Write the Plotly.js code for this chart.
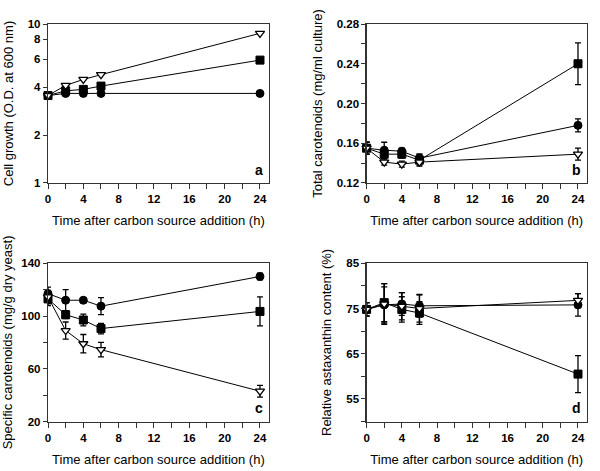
<!DOCTYPE html>
<html>
<head>
<meta charset="utf-8">
<script src="https://cdn.plot.ly/plotly-3.0.1.min.js"></script>
<style>html,body{margin:0;padding:0;background:#fff}#chart{width:600px;height:471px}</style>
</head>
<body>
<div id="chart"></div>
<script>
// Time points (h)
var hours = [0, 2, 4, 6, 24];

// Panel a: cell growth (O.D. at 600 nm)
var growthCircle   = [3.55, 3.66, 3.66, 3.66, 3.66];
var growthSquare   = [3.55, 3.80, 3.88, 4.07, 5.93];
var growthTriangle = [3.55, 4.11, 4.48, 4.80, 8.74];

// Panel b: total carotenoids (mg/ml culture)
var totalCircle      = [0.155, 0.153, 0.152, 0.145, 0.178];
var totalCircleErr   = [0.006, 0.008, 0.003, 0.004, 0.0065];
var totalSquare      = [0.155, 0.149, 0.149, 0.143, 0.240];
var totalSquareErr   = [0.006, 0.004, 0.004, 0.006, 0.021];
var totalTriangle    = [0.155, 0.141, 0.139, 0.141, 0.149];
var totalTriangleErr = [0.006, 0.003, 0.003, 0.003, 0.006];

// Panel c: specific carotenoids (mg/g dry yeast)
var specCircle      = [117, 112, 112, 107.5, 130];
var specCircleErr   = [5, 8, 2, 6.5, 2.5];
var specSquare      = [113, 101, 97, 90.5, 103.5];
var specSquareErr   = [5, 3, 4.5, 4, 11];
var specTriangle    = [114.5, 89, 79, 74.5, 43];
var specTriangleErr = [5, 6.5, 7, 5.5, 4.5];

// Panel d: relative astaxanthin content (%)
var astaCircle      = [74.8, 75.8, 76.0, 75.6, 75.8];
var astaCircleErr   = [1.5, 4, 2.5, 2.5, 2.5];
var astaSquare      = [74.8, 76.3, 74.8, 74.0, 60.5];
var astaSquareErr   = [1.5, 4.2, 2.8, 2.5, 4.1];
var astaTriangle    = [74.8, 76.0, 75.5, 75.0, 76.8];
var astaTriangleErr = [1.5, 4.5, 3, 3, 1.5];

// Tick values / labels
var xTickVals = [0,2,4,6,8,10,12,14,16,18,20,22,24];
var xTickText = ['0','','4','','8','','12','','16','','20','','24'];
var aTickVals = [1,2,4,6,8,10];
var aTickText = ['1','2','4','6','8','10'];
var bTickVals = [0.12,0.14,0.16,0.18,0.20,0.22,0.24,0.26,0.28];
var bTickText = ['0.12','','0.16','','0.20','','0.24','','0.28'];
var cTickVals = [20,40,60,80,100,120,140];
var cTickText = ['20','','60','','100','','140'];
var dTickVals = [50,55,60,65,70,75,80,85];
var dTickText = ['','55','','65','','75','','85'];

var panelLetters = ['a','b','c','d'];
var xTitle = 'Time after carbon source addition (h)';
var yTitles = ['Cell growth (O.D. at 600 nm)','Total carotenoids (mg/ml culture)',
               'Specific carotenoids (mg/g dry yeast)','Relative astaxanthin content (%)'];

var FONT = 'Liberation Sans, Arial, sans-serif';
var markerStyles = {
  circle:   {symbol:'circle', size:8, color:'#000', line:{color:'#000', width:1}},
  square:   {symbol:'square', size:8, color:'#000', line:{color:'#000', width:1}},
  triangle: {symbol:'triangle-down', size:8, color:'#fff', line:{color:'#000', width:1.3}}
};

function tr(y, err, kind, n) {
  var t = {
    x: hours, y: y, mode: 'lines+markers', type: 'scatter',
    xaxis: 'x' + (n === 1 ? '' : n), yaxis: 'y' + (n === 1 ? '' : n),
    line: {color:'#000', width:1}, marker: markerStyles[kind],
    showlegend: false, cliponaxis: false
  };
  if (err) t.error_y = {type:'data', array: err, visible:true, color:'#000', thickness:1.3, width:3};
  return t;
}

var data = [
  tr(growthCircle, null, 'circle', 1),
  tr(growthSquare, null, 'square', 1),
  tr(growthTriangle, null, 'triangle', 1),
  tr(totalCircle, totalCircleErr, 'circle', 2),
  tr(totalSquare, totalSquareErr, 'square', 2),
  tr(totalTriangle, totalTriangleErr, 'triangle', 2),
  tr(specCircle, specCircleErr, 'circle', 3),
  tr(specSquare, specSquareErr, 'square', 3),
  tr(specTriangle, specTriangleErr, 'triangle', 3),
  tr(astaCircle, astaCircleErr, 'circle', 4),
  tr(astaSquare, astaSquareErr, 'square', 4),
  tr(astaTriangle, astaTriangleErr, 'triangle', 4)
];

function xa(domain, anchor) {
  return {
    domain: domain, anchor: anchor, range: [0, 25],
    tickmode: 'array', tickvals: xTickVals, ticktext: xTickText,
    ticks: 'outside', ticklen: 5, tickwidth: 1, tickcolor: '#333',
    showline: true, linecolor: '#333', linewidth: 1.2, mirror: true,
    showgrid: false, zeroline: false,
    tickfont: {family: FONT, size: 11.5, color: '#000', weight: 'bold'},
    title: {text: xTitle, standoff: 12, font: {family: FONT, size: 13, color: '#000', weight: 'normal'}}
  };
}
function ya(domain, anchor, range, vals, text, title, type) {
  var o = {
    domain: domain, anchor: anchor, range: range,
    tickmode: 'array', tickvals: vals, ticktext: text,
    ticks: 'outside', ticklen: 4, tickwidth: 1, tickcolor: '#333',
    showline: true, linecolor: '#333', linewidth: 1.2, mirror: true,
    showgrid: false, zeroline: false,
    tickfont: {family: FONT, size: 11.5, color: '#000', weight: 'bold'},
    title: {text: title, standoff: 11, font: {family: FONT, size: 13, color: '#000', weight: 'normal'}}
  };
  if (type) o.type = type;
  return o;
}

var dxL = [0.080, 0.448], dxR = [0.611, 0.978];
var dyT = [0.6115, 0.949], dyB = [0.105, 0.441];

var layout = {
  width: 600, height: 471,
  margin: {l:0, r:0, t:0, b:0},
  paper_bgcolor: '#fff', plot_bgcolor: '#fff',
  font: {family: FONT, color: '#000'},
  showlegend: false,
  xaxis: xa(dxL, 'y'),
  yaxis: ya(dyT, 'x', [0, 1], aTickVals, aTickText, yTitles[0], 'log'),
  xaxis2: xa(dxR, 'y2'),
  yaxis2: ya(dyT, 'x2', [0.12, 0.28], bTickVals, bTickText, yTitles[1]),
  xaxis3: xa(dxL, 'y3'),
  yaxis3: ya(dyB, 'x3', [20, 140], cTickVals, cTickText, yTitles[2]),
  xaxis4: xa(dxR, 'y4'),
  yaxis4: ya(dyB, 'x4', [50, 85], dTickVals, dTickText, yTitles[3]),
  annotations: panelLetters.map(function(l, i) {
    var s = i === 0 ? '' : (i + 1);
    return {
      text: '<b>' + l + '</b>', xref: 'x' + s + ' domain', yref: 'y' + s + ' domain',
      x: 0.985, y: 0.02, xanchor: 'right', yanchor: 'bottom', showarrow: false,
      font: {family: FONT, size: 14, color: '#000'}
    };
  })
};

Plotly.newPlot('chart', data, layout, {displayModeBar: false, staticPlot: true});
</script>
</body>
</html>
